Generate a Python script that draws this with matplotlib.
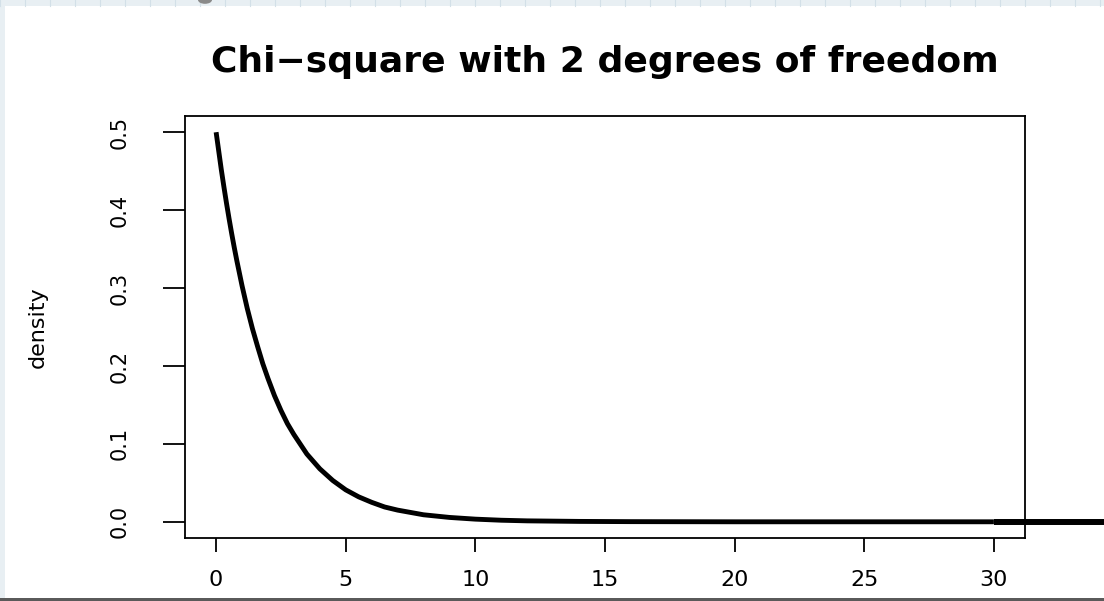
import matplotlib.pyplot as plt
from matplotlib.patches import Rectangle, Circle

# values (chi-square, 2 df)
x_vals = [0, 0.1, 0.2, 0.3, 0.4, 0.5, 0.6, 0.7, 0.8, 0.9, 1, 1.2, 1.4, 1.6, 1.8,
          2, 2.25, 2.5, 2.75, 3, 3.5, 4, 4.5, 5, 5.5, 6, 6.5, 7, 8, 9, 10, 11,
          12, 14, 16, 20, 25, 30]
dens = [0.5, 0.476, 0.452, 0.430, 0.409, 0.389, 0.370, 0.352, 0.335, 0.319,
        0.303, 0.274, 0.248, 0.225, 0.203, 0.184, 0.162, 0.143, 0.126, 0.112,
        0.087, 0.068, 0.053, 0.041, 0.032, 0.025, 0.019, 0.015, 0.009, 0.0056,
        0.0034, 0.0020, 0.0012, 0.0005, 0.0002, 0.0, 0.0, 0.0]
# extra flat segment drawn past the plot box
tail_x = [30, 36]
tail_y = [0, 0]

x_ticks = [0, 5, 10, 15, 20, 25, 30]
y_ticks = [0.0, 0.1, 0.2, 0.3, 0.4, 0.5]

fig = plt.figure(figsize=(11.04, 6.01), dpi=100)
fig.patch.set_facecolor('#e8eff3')

# white page on top of the light background
W, H = 1104, 601
fig.patches.append(Rectangle((5 / W, 3 / H), 1, (H - 9) / H, transform=fig.transFigure,
                             facecolor='white', edgecolor='none', zorder=-3))
fig.patches.append(Rectangle((0, 0), 1, 3 / H, transform=fig.transFigure,
                             facecolor='#5a5a5a', edgecolor='none', zorder=-3))
for gx in range(0, W, 25):
    fig.lines.append(plt.Line2D([gx / W, gx / W], [(H - 6) / H, 1], transform=fig.transFigure,
                                color='#d3e0e8', lw=0.8, zorder=-2))
fig.patches.append(Circle((205 / W, 1.0), 7 / W, transform=fig.transFigure,
                          facecolor='#8a8a8a', edgecolor='none', zorder=-1))

ax = fig.add_axes([185 / W, 63 / H, 840 / W, 422 / H])
ax.set_zorder(5)
ax.set_facecolor('white')
ax.plot(x_vals, dens, color='black', lw=3.5, solid_capstyle='butt')
ax.plot(tail_x, tail_y, color='black', lw=4.3, clip_on=False, solid_capstyle='butt')

ax.set_xlim(-1.2, 31.2)
ax.set_ylim(-0.0208, 0.5208)
ax.set_xticks(x_ticks)
ax.set_xticklabels([str(t) for t in x_ticks])
ax.set_yticks(y_ticks)
ax.set_yticklabels([f"{t:.1f}" for t in y_ticks], rotation=90, va='center', fontsize=15)

for s in ax.spines.values():
    s.set_linewidth(1.3)
ax.tick_params(axis='x', length=10, width=1.3, pad=13, labelsize=16)
ax.tick_params(axis='y', length=16, width=1.3, pad=24)

ax.set_ylabel('density', fontsize=16)
ax.yaxis.set_label_coords(-0.163, 0.5)

ax.text(0.5, 1 + 54 / 422, 'Chi\u2212square with 2 degrees of freedom', transform=ax.transAxes,
        ha='center', va='center', fontsize=26, fontweight='bold')

fig.savefig('out.png', dpi=100, facecolor=fig.get_facecolor())
